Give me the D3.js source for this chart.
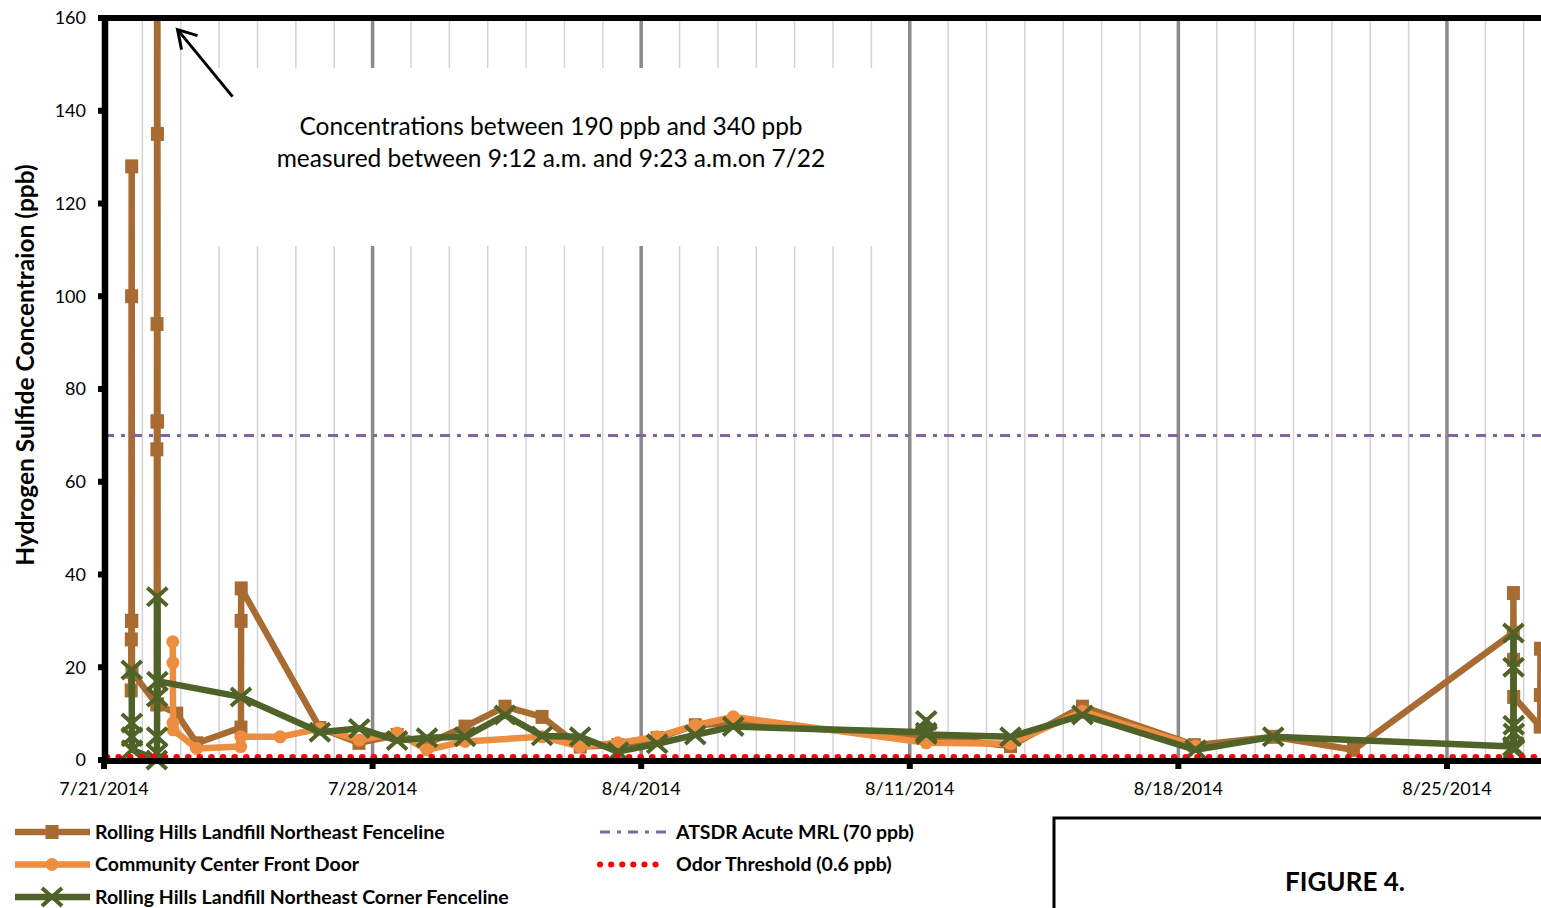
<!DOCTYPE html>
<html>
<head>
<meta charset="utf-8">
<script src="https://cdn.jsdelivr.net/npm/d3@7"></script>
<style>
body { margin: 0; background: #fff; overflow: hidden; }
svg { display: block; }
text { font-family: Lato, "Open Sans", sans-serif; fill: #000; }
</style>
</head>
<body>
<svg id="chart" width="1541" height="908"></svg>
<script>
// Rolling Hills Landfill Northeast Fenceline
var fencelineTimes = ["2014-07-21 17:00", "2014-07-21 17:05", "2014-07-21 17:10", "2014-07-21 17:15", "2014-07-21 17:20", "2014-07-21 17:25", "2014-07-21 17:30",
    "2014-07-22 09:00", "2014-07-22 09:04", "2014-07-22 09:07", "2014-07-22 09:10", "2014-07-22 09:12", "2014-07-22 09:16", "2014-07-22 09:20", "2014-07-22 09:23", "2014-07-22 09:26", "2014-07-22 09:30", "2014-07-22 09:35",
    "2014-07-22 21:30", "2014-07-23 10:00", "2014-07-24 13:40", "2014-07-24 13:45", "2014-07-24 13:50",
    "2014-07-26 15:00", "2014-07-27 15:30", "2014-07-28 15:20", "2014-07-29 10:00", "2014-07-30 09:50", "2014-07-31 10:50",
    "2014-08-01 10:00", "2014-08-02 09:50", "2014-08-03 09:30", "2014-08-04 10:00", "2014-08-05 09:50", "2014-08-06 09:30",
    "2014-08-11 10:20", "2014-08-13 15:00", "2014-08-15 12:00", "2014-08-18 10:00", "2014-08-20 11:20", "2014-08-22 13:30",
    "2014-08-26 17:30", "2014-08-26 17:35", "2014-08-26 17:40", "2014-08-26 17:45", "2014-08-27 10:20", "2014-08-27 10:25", "2014-08-27 10:30"];
var fencelineValues = [15, 26, 30, 100, 128, 30, 19,
    12, 67, 73, 94, 190, 340, 260, 210, 135, 73, 12,
    10, 3.6, 7, 30, 37,
    6.9, 3.7, 5.4, 3.5, 7.2, 11.5,
    9.3, 2.9, 3.2, 4.7, 7.5, 8,
    5, 3, 11.5, 3.2, 5, 2.2,
    27.4, 36, 21.6, 13.6, 7.2, 14, 24];

// Community Center Front Door
var communityTimes = ["2014-07-22 19:00", "2014-07-22 19:05", "2014-07-22 19:10", "2014-07-22 19:15", "2014-07-23 10:00", "2014-07-24 13:30", "2014-07-24 13:35",
    "2014-07-25 14:10", "2014-07-26 15:10", "2014-07-27 15:40", "2014-07-28 15:20", "2014-07-29 10:00", "2014-07-30 09:50",
    "2014-08-01 10:00", "2014-08-02 09:50", "2014-08-03 09:30", "2014-08-04 10:00", "2014-08-05 09:50", "2014-08-06 09:35",
    "2014-08-11 10:20", "2014-08-13 15:00", "2014-08-15 12:00", "2014-08-18 10:50"];
var communityValues = [25.5, 21, 8, 6.5, 2.5, 2.9, 5,
    5, 6.8, 4.3, 5.8, 2.2, 4,
    5, 2.9, 3.7, 5, 7.5, 9.3,
    3.7, 3.5, 10.5, 3];

// Rolling Hills Landfill Northeast Corner Fenceline
var cornerTimes = ["2014-07-21 17:20", "2014-07-21 17:25", "2014-07-21 17:30", "2014-07-21 17:35",
    "2014-07-22 09:00", "2014-07-22 09:05", "2014-07-22 09:10", "2014-07-22 09:15", "2014-07-22 09:20", "2014-07-22 09:25",
    "2014-07-24 13:40", "2014-07-26 15:00", "2014-07-27 15:40", "2014-07-28 15:20", "2014-07-29 10:00", "2014-07-30 09:50", "2014-07-31 10:50",
    "2014-08-01 10:00", "2014-08-02 09:50", "2014-08-03 09:30", "2014-08-04 10:00", "2014-08-05 09:50", "2014-08-06 09:35",
    "2014-08-11 10:15", "2014-08-11 10:20", "2014-08-11 10:25", "2014-08-13 15:00", "2014-08-15 12:00", "2014-08-18 10:50", "2014-08-20 11:20",
    "2014-08-26 17:30", "2014-08-26 17:35", "2014-08-26 17:40", "2014-08-26 17:45", "2014-08-26 17:50", "2014-08-26 17:55"];
var cornerValues = [19.4, 8, 5, 2.2,
    0, 1.5, 5, 13.6, 35.2, 17,
    13.6, 6, 6.8, 4.2, 4.8, 5, 9.7,
    5.2, 5, 1.8, 3.5, 5.4, 7.2,
    6, 8.5, 5.5, 5, 9.7, 2.2, 5,
    2.9, 27.4, 20, 7.5, 5.8, 2.2];

var mrlValue = 70;
var odorValue = 0.6;
var yTicks = [0, 20, 40, 60, 80, 100, 120, 140, 160];
var xTickDates = ["2014-07-21", "2014-07-28", "2014-08-04", "2014-08-11", "2014-08-18", "2014-08-25"];

var colors = {
    fenceline: "#a86c32",
    community: "#ec8d3f",
    corner: "#4f6228",
    mrl: "#7f66a3",
    odor: "#ff0000"
};

(function() {
    var parseTime = d3.timeParse("%Y-%m-%d %H:%M");
    var parseDay = d3.timeParse("%Y-%m-%d");

    function zip(times, values) {
        return times.map(function(t, i) {
            return { t: parseTime(t), v: values[i] };
        });
    }

    var fenceline = zip(fencelineTimes, fencelineValues);
    var community = zip(communityTimes, communityValues);
    var corner = zip(cornerTimes, cornerValues);

    var svg = d3.select("#chart");
    var plotLeft = 104, plotTop = 18, plotBottom = 760, dayPx = 38.37;

    var x = d3.scaleTime()
        .domain([parseDay("2014-07-21"), parseDay("2014-09-01")])
        .range([plotLeft, plotLeft + 42 * dayPx]);
    var y = d3.scaleLinear().domain([0, 160]).range([plotBottom, plotTop]);

    svg.append("defs").append("clipPath").attr("id", "plotClip")
        .append("rect").attr("x", 0).attr("y", plotTop).attr("width", 2000).attr("height", 1000);

    // daily gridlines, weekly ones darker
    var days = d3.timeDay.range(parseDay("2014-07-22"), parseDay("2014-09-01"));
    function isWeek(d) { return d3.timeMonday.floor(d).getTime() === d.getTime(); }
    svg.append("g").selectAll("line")
        .data(days).enter().append("line")
        .attr("x1", function(d) { return x(d); })
        .attr("x2", function(d) { return x(d); })
        .attr("y1", plotTop)
        .attr("y2", plotBottom)
        .attr("stroke", function(d) { return isWeek(d) ? "#8a8a8a" : "#d4d4d4"; })
        .attr("stroke-width", function(d) { return isWeek(d) ? 3.5 : 1.5; });

    // annotation box hides the grid behind the note
    svg.append("rect")
        .attr("x", 215).attr("y", 68)
        .attr("width", 670).attr("height", 178)
        .attr("fill", "#fff");

    var note = svg.append("text")
        .attr("x", 551).attr("y", 135)
        .attr("text-anchor", "middle")
        .style("font-size", "24.5px");
    note.append("tspan").attr("x", 551).attr("dy", 0).text("Concentrations between 190 ppb and 340 ppb");
    note.append("tspan").attr("x", 551).attr("dy", 32).text("measured between 9:12 a.m. and 9:23 a.m.on 7/22");

    // arrow pointing at the clipped peak
    var tipX = x(parseTime("2014-07-22 22:00")), tipY = y(157.5);
    svg.append("line")
        .attr("x1", tipX).attr("y1", tipY)
        .attr("x2", tipX + 55).attr("y2", tipY + 67)
        .attr("stroke", "#000").attr("stroke-width", 3);
    svg.append("polyline")
        .attr("points", [[tipX + 20, tipY + 6], [tipX, tipY], [tipX + 4, tipY + 20]].join(" "))
        .attr("fill", "none").attr("stroke", "#000").attr("stroke-width", 3);

    var plot = svg.append("g").attr("clip-path", "url(#plotClip)");

    var line = d3.line()
        .x(function(d) { return x(d.t); })
        .y(function(d) { return y(d.v); });

    function drawSeries(data, color, marker) {
        var g = plot.append("g");
        g.append("path")
            .datum(data)
            .attr("d", line)
            .attr("fill", "none")
            .attr("stroke", color)
            .attr("stroke-width", 6.5)
            .attr("stroke-linejoin", "round");
        var m = g.selectAll(".m").data(data).enter().append("g")
            .attr("transform", function(d) { return "translate(" + x(d.t) + "," + y(d.v) + ")"; });
        marker(m, color);
    }

    function squareMarker(sel, color) {
        sel.append("rect").attr("x", -6.5).attr("y", -7).attr("width", 13).attr("height", 14).attr("fill", color);
    }
    function circleMarker(sel, color) {
        sel.append("circle").attr("r", 6.5).attr("fill", color);
    }
    function crossMarker(sel, color) {
        sel.append("path").attr("d", "M-10,-9L10,9M-10,9L10,-9")
            .attr("stroke", color).attr("stroke-width", 4).attr("fill", "none");
    }

    drawSeries(fenceline, colors.fenceline, squareMarker);
    drawSeries(community, colors.community, circleMarker);
    drawSeries(corner, colors.corner, crossMarker);

    // reference levels
    plot.append("line")
        .attr("x1", plotLeft).attr("x2", 1600)
        .attr("y1", y(mrlValue)).attr("y2", y(mrlValue))
        .attr("stroke", colors.mrl).attr("stroke-width", 3)
        .attr("stroke-dasharray", "10 7 4 7");
    plot.append("line")
        .attr("x1", plotLeft + 3).attr("x2", 1600)
        .attr("y1", y(odorValue)).attr("y2", y(odorValue))
        .attr("stroke", colors.odor).attr("stroke-width", 6.5)
        .attr("stroke-linecap", "round")
        .attr("stroke-dasharray", "0.1 11.5");

    // axes frame
    svg.append("line").attr("x1", plotLeft).attr("x2", 1541).attr("y1", plotTop).attr("y2", plotTop)
        .attr("stroke", "#000").attr("stroke-width", 6);
    svg.append("line").attr("x1", plotLeft + 1).attr("x2", plotLeft + 1).attr("y1", plotTop - 3).attr("y2", plotBottom + 4)
        .attr("stroke", "#000").attr("stroke-width", 6.5);
    svg.append("line").attr("x1", plotLeft - 2).attr("x2", 1541).attr("y1", plotBottom + 1).attr("y2", plotBottom + 1)
        .attr("stroke", "#000").attr("stroke-width", 6);

    var yAxis = svg.append("g");
    yAxis.selectAll("rect").data(yTicks).enter().append("rect")
        .attr("x", plotLeft - 6).attr("y", function(d) { return y(d) - 3; })
        .attr("width", 6).attr("height", 6).attr("fill", "#000");
    yAxis.selectAll("text").data(yTicks).enter().append("text")
        .attr("x", 86).attr("y", function(d) { return y(d); })
        .attr("dy", "0.35em")
        .attr("text-anchor", "end")
        .style("font-size", "18px")
        .text(function(d) { return d; });

    var xAxis = svg.append("g");
    var xDates = xTickDates.map(function(s) { return parseDay(s); });
    xAxis.selectAll("rect").data(xDates).enter().append("rect")
        .attr("x", function(d) { return x(d) - 3; }).attr("y", plotBottom + 2)
        .attr("width", 6).attr("height", 7).attr("fill", "#000");
    xAxis.selectAll("text").data(xDates).enter().append("text")
        .attr("x", function(d) { return x(d); })
        .attr("y", 795)
        .attr("text-anchor", "middle")
        .style("font-size", "18px")
        .text(d3.timeFormat("%-m/%-d/%Y"));

    svg.append("text")
        .attr("transform", "translate(34,365) rotate(-90)")
        .attr("text-anchor", "middle")
        .style("font-size", "24.5px")
        .style("font-weight", "bold")
        .text("Hydrogen Sulfide Concentraion (ppb)");

    // legend
    var legendSeries = [
        { name: "Rolling Hills Landfill Northeast Fenceline", color: colors.fenceline, marker: squareMarker },
        { name: "Community Center Front Door", color: colors.community, marker: circleMarker },
        { name: "Rolling Hills Landfill Northeast Corner Fenceline", color: colors.corner, marker: crossMarker }
    ];
    legendSeries.forEach(function(s, i) {
        var g = svg.append("g").attr("transform", "translate(0," + (832 + i * 32.5) + ")");
        g.append("line").attr("x1", 15).attr("x2", 90).attr("stroke", s.color).attr("stroke-width", 6.5);
        s.marker(g.append("g").attr("transform", "translate(52,0)"), s.color);
        g.append("text").attr("x", 95).attr("dy", "0.35em")
            .style("font-size", "19.5px").style("font-weight", "bold").text(s.name);
    });

    var legendRefs = [
        { name: "ATSDR Acute MRL (70 ppb)", color: colors.mrl, width: 3, dash: "10 7 4 7", cap: "butt", x2: 668 },
        { name: "Odor Threshold (0.6 ppb)", color: colors.odor, width: 6, dash: "0.1 11", cap: "round", x2: 664 }
    ];
    legendRefs.forEach(function(s, i) {
        var g = svg.append("g").attr("transform", "translate(0," + (832 + i * 32.5) + ")");
        g.append("line").attr("x1", 600).attr("x2", s.x2)
            .attr("stroke", s.color).attr("stroke-width", s.width)
            .attr("stroke-dasharray", s.dash).attr("stroke-linecap", s.cap);
        g.append("text").attr("x", 676).attr("dy", "0.35em")
            .style("font-size", "19.5px").style("font-weight", "bold").text(s.name);
    });

    // figure label box
    svg.append("rect")
        .attr("x", 1054).attr("y", 818)
        .attr("width", 600).attr("height", 200)
        .attr("fill", "#fff").attr("stroke", "#000").attr("stroke-width", 3);
    svg.append("text")
        .attr("x", 1345).attr("y", 891)
        .attr("text-anchor", "middle")
        .style("font-size", "26px").style("font-weight", "bold")
        .text("FIGURE 4.");
})();
</script>
</body>
</html>
